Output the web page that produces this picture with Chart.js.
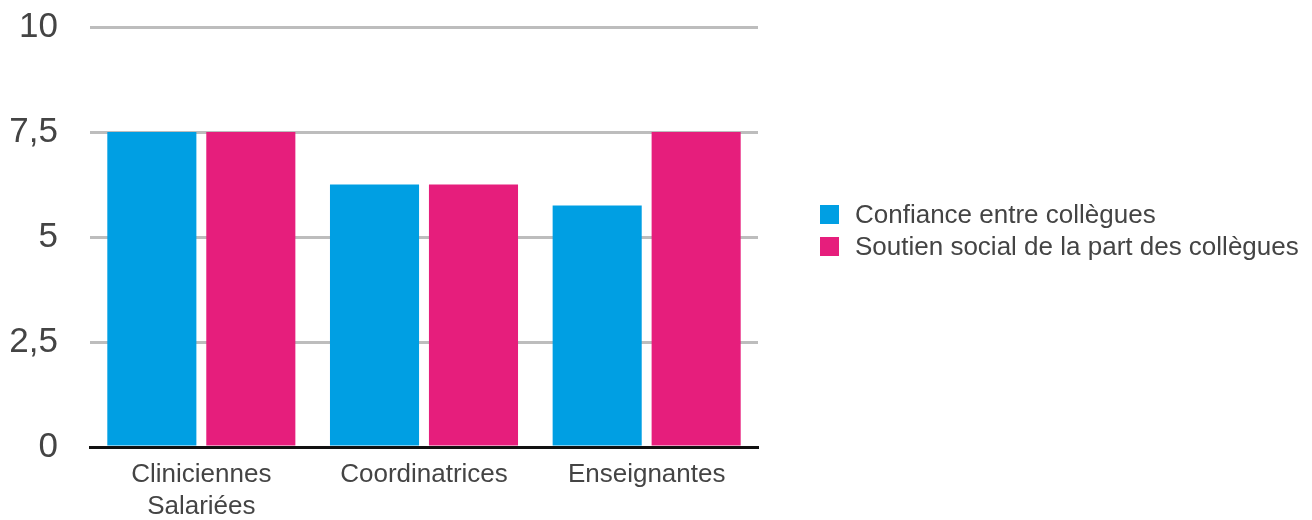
<!DOCTYPE html>
<html>
<head>
<meta charset="utf-8">
<script src="https://cdn.jsdelivr.net/npm/chart.js@4/dist/chart.umd.min.js"></script>
<style>
    html, body { margin: 0; padding: 0; background: #ffffff; }
    #wrap { position: relative; width: 1312px; height: 520px; }
    #legend { position: absolute; left: 820px; top: 198px; font-family: 'Liberation Sans', Arial, sans-serif; font-size: 26px; color: #444; }
    .item { display: flex; align-items: center; height: 32px; white-space: nowrap; }
    .box { width: 19px; height: 19px; margin-right: 16px; }
</style>
</head>
<body>
<div id="wrap">
    <canvas id="chart" width="1312" height="520"></canvas>
    <div id="legend"></div>
</div>
<script>
const CATEGORIES = [['Cliniciennes', 'Salariées'], 'Coordinatrices', 'Enseignantes'];
const CONFIANCE = [7.5, 6.25, 5.75];
const SOUTIEN = [7.5, 6.25, 7.5];
const SERIES_LABELS = ['Confiance entre collègues', 'Soutien social de la part des collègues'];
const SERIES_COLORS = ['#009fe3', '#e61e7c'];
const Y_TICKS = [0, 2.5, 5, 7.5, 10];

const FONT = "'Liberation Sans', Arial, sans-serif";

function formatTick(value) {
    return String(value).replace('.', ',');
}

const datasets = [CONFIANCE, SOUTIEN].map((data, index) => ({
    label: SERIES_LABELS[index],
    data,
    backgroundColor: SERIES_COLORS[index],
    borderWidth: 0,
    barPercentage: 0.9,
    categoryPercentage: 0.889
}));

new Chart(document.getElementById('chart'), {
    type: 'bar',
    data: { labels: CATEGORIES, datasets },
    options: {
        responsive: false,
        animation: false,
        layout: { padding: { top: 27, right: 554, left: 0, bottom: 0 } },
        plugins: {
            legend: { display: false },
            tooltip: { enabled: false }
        },
        scales: {
            x: {
                grid: { display: false },
                border: { display: true, color: '#111', width: 3 },
                afterFit(scale) {
                    scale.height = 73;
                    scale.paddingLeft = 0;
                    scale.paddingRight = 0;
                },
                ticks: {
                    color: '#444',
                    font: { family: FONT, size: 26, lineHeight: 1.22 },
                    padding: 4,
                    maxRotation: 0
                }
            },
            y: {
                min: 0,
                max: 10,
                afterBuildTicks(scale) {
                    scale.ticks = Y_TICKS.map(value => ({ value }));
                },
                afterFit(scale) {
                    scale.width = 90;
                    scale.paddingTop = 0;
                    scale.paddingBottom = 0;
                },
                grid: { color: '#bdbdbd', lineWidth: 3, drawTicks: false },
                border: { display: false },
                ticks: {
                    color: '#444',
                    font: { family: FONT, size: 35 },
                    padding: 32,
                    callback(value) {
                        return formatTick(value);
                    }
                }
            }
        }
    }
});

const legend = document.getElementById('legend');
SERIES_LABELS.forEach((label, index) => {
    const item = document.createElement('div');
    item.className = 'item';
    item.innerHTML = `<span class="box" style="background:${SERIES_COLORS[index]}"></span><span>${label}</span>`;
    legend.appendChild(item);
});
</script>
</body>
</html>
